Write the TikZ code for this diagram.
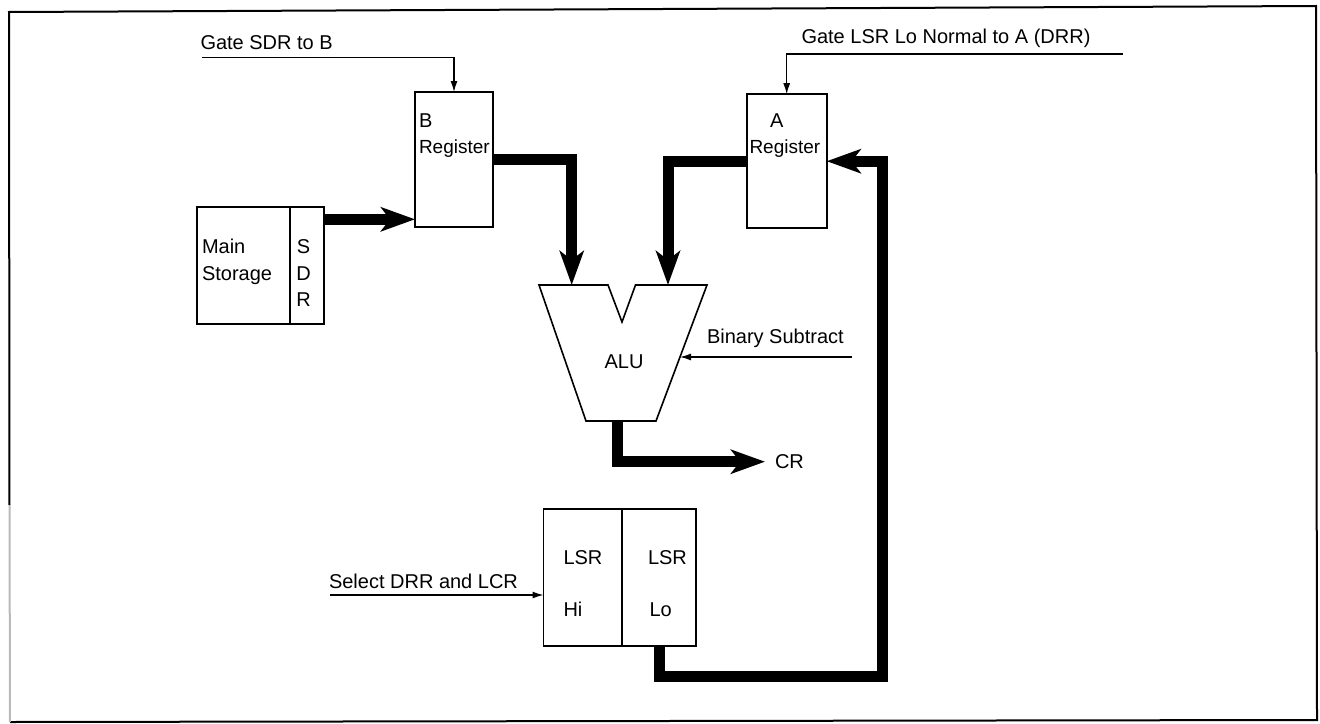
\documentclass[tikz,border=0pt]{standalone}
\usepackage{fontspec}
\setmainfont{Liberation Sans}
\usetikzlibrary{arrows.meta,calc}
\begin{document}
\begin{tikzpicture}[x=1pt,y=-1pt,
  every node/.style={inner sep=0pt, outer sep=0pt, font=\fontsize{20}{24}\selectfont},
  lbl/.style={anchor=base west},
  ctr/.style={anchor=base},
  regfont/.style={font=\fontsize{19}{22}\selectfont},
  box/.style={draw, line width=1.8pt, rectangle},
  bus/.style={line width=11pt, -{Stealth[length=34pt,width=24pt,inset=9pt]}},
  sig/.style={line width=1.3pt, -{Latex[length=11pt,width=7pt]}},
  frameline/.style={line width=2pt}
]
\fill[white] (0,0) rectangle (1320,723);
\useasboundingbox (0,0) rectangle (1320,723);

% frame
\coordinate (f1) at (9,12);
\coordinate (f2) at (1316,6);
\coordinate (f3) at (1317,720);
\coordinate (f4) at (10,722);
\coordinate (f5) at (9.5,505);
\draw[frameline] (f5) -- (f1) -- (f2) -- (f3) -- (f4);
\draw[frameline, gray!55] (f4) -- (f5);

% boxes
\node[box, minimum width=78pt, minimum height=135pt] (B) at (454,159.5) {};
\node[box, minimum width=80pt, minimum height=134pt] (A) at (786.7,161.2) {};
\node[box, minimum width=93.3pt, minimum height=117pt] (MS) at (243.35,265.8) {};
\node[box, minimum width=34pt, minimum height=117pt] (SDR) at (307,265.8) {};
\node[box, minimum width=78.5pt, minimum height=136.4pt] (HI) at (582.75,577.5) {};
\node[box, minimum width=74pt, minimum height=136.4pt] (LO) at (659,577.5) {};

% ALU shape
\coordinate (alu1) at (539,285);
\coordinate (alu2) at (608,285);
\coordinate (alu3) at (622,322);
\coordinate (alu4) at (635.5,285);
\coordinate (alu5) at (707,285);
\coordinate (alu6) at (656,421);
\coordinate (alu7) at (586,421);
\draw[line width=1.6pt, line join=miter] (alu1) -- (alu2) -- (alu3) -- (alu4) -- (alu5) -- (alu6) -- (alu7) -- cycle;
\coordinate (inB) at (571.7,285);
\coordinate (inA) at (668,285);
\coordinate (aluR) at (680,357);
\coordinate (aluOut) at (617,421);

% texts
\node[lbl] (tgsdr) at (200.5,49.5) {Gate SDR to B};
\node[lbl] (tglsr) at (801.5,43) {Gate LSR Lo Normal to A (DRR)};
\node[lbl] (tB) at (419,127) {B};
\node[lbl, regfont] (tBreg) at (419,153.5) {Register};
\node[lbl] (tA) at (770,127) {A};
\node[lbl, regfont] (tAreg) at (749.5,153.5) {Register};
\node[lbl] (tMain) at (202,253.3) {Main};
\node[lbl] (tStor) at (202,280) {Storage};
\node[ctr] (tS) at (303.5,253.3) {S};
\node[ctr] (tD) at (303.5,280) {D};
\node[ctr] (tR) at (303.5,306.7) {R};
\node[ctr] (tALU) at (624,368) {ALU};
\node[lbl] (tBS) at (707,343.5) {Binary Subtract};
\node[anchor=west, inner xsep=10pt] (tCR) at (765,461.7) {CR};
\node[lbl] (tSel) at (329,588.3) {Select DRR and LCR};
\node[lbl] (tLSR1) at (563.5,564) {LSR};
\node[lbl] (tHi) at (563.5,616.7) {Hi};
\node[lbl] (tLSR2) at (648,564) {LSR};
\node[lbl] (tLo) at (649.5,616.7) {Lo};

% control signals
\coordinate (gs) at (201.7,57.3);
\draw[sig] (gs) -| (B.north);
\coordinate (gl) at (1123,54);
\draw[sig] (gl) -| (A.north);
\coordinate (bsr) at (852,357);
\draw[sig] (bsr) -- (aluR);
\coordinate (sel) at (330,595);
\draw[sig] (sel) -- (sel -| HI.west);

% data buses
\coordinate (y1) at (0,219.3);
\coordinate (s1) at (SDR.east |- y1);
\draw[bus] (s1) -- (s1 -| B.west);
\draw[bus] (B.east) -| (inB);
\draw[bus] (A.west) -| (inA);
\draw[bus] (aluOut) |- (tCR.west);
\coordinate (lp) at (882,676);
\draw[bus] (LO.south) |- (lp) |- (A.east);
\end{tikzpicture}
\end{document}
